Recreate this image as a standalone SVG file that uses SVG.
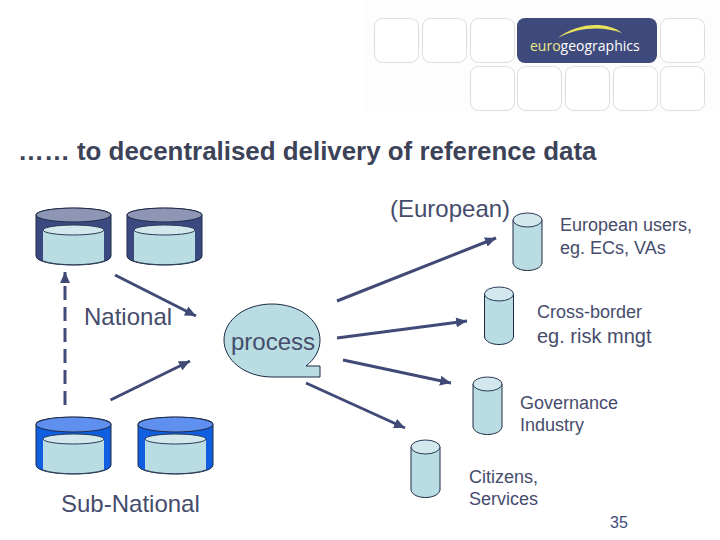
<svg xmlns="http://www.w3.org/2000/svg" width="720" height="540" viewBox="0 0 720 540">
<style>
text{font-family:"Liberation Sans",Arial,sans-serif;fill:#454c6c}
.big{font-size:24px}
.mid{font-size:20px}
.sm{font-size:18px}
.tile{fill:#fff;stroke:#dcdde0;stroke-width:1}
.cyl{fill:#b9dde2;stroke:#1c2a44;stroke-width:1}
.top{fill:#d3e8ec;stroke:#2a3a58;stroke-width:1}
.arrow{fill:none;stroke:#414a76;stroke-width:3;marker-end:url(#ah)}
</style>
<defs>
<marker id="ah" markerUnits="userSpaceOnUse" markerWidth="12" markerHeight="10" refX="11" refY="5" orient="auto"><path d="M0 0L11 5L0 10Z" fill="#414a76"/></marker>
<path id="bigc" d="M0 7C0 -2 75 -2 75 7V48C75 60 0 60 0 48Z"/>
<g id="inner">
<path d="M7 22V53C20 58 55 58 68 53V22Z" fill="#b9dde2"/>
<path d="M7 53C20 58 55 58 68 53" fill="none" stroke="#2a3a58"/>
<ellipse class="top" cx="37.500" cy="22" rx="30.500" ry="5"/>
</g>
<g id="small">
<path class="cyl" d="M0 7V50C2 60 27 60 29 50V7Z"/>
<ellipse class="top" cx="14.500" cy="7" rx="14.500" ry="7"/>
</g>
</defs>
<rect x="366" y="0" width="354" height="113" fill="#fdfdfd"/>
<g id="logo">
<rect class="tile" x="374.500" y="18.500" width="44" height="44" rx="8"/>
<rect class="tile" x="422.500" y="18.500" width="44" height="44" rx="8"/>
<rect class="tile" x="470.500" y="18.500" width="44" height="44" rx="8"/>
<rect x="517" y="18" width="140" height="45" rx="8" fill="#3f4a7c"/>
<path d="M558 38C575 24 605 20 622 33C603 26 578 27 558 38Z" fill="#e9e25c"/>
<text x="530" y="51" style="font-family:'Open Sans','Noto Sans',sans-serif;font-size:14px;fill:#e9e98a">euro<tspan style="fill:#fff">geographics</tspan></text>
<rect class="tile" x="660.500" y="18.500" width="44" height="44" rx="8"/>
<rect class="tile" x="470.500" y="66.500" width="44" height="44" rx="8"/>
<rect class="tile" x="517.500" y="66.500" width="44" height="44" rx="8"/>
<rect class="tile" x="565.500" y="66.500" width="44" height="44" rx="8"/>
<rect class="tile" x="613.500" y="66.500" width="44" height="44" rx="8"/>
<rect class="tile" x="660.500" y="66.500" width="44" height="44" rx="8"/>
</g>
<text x="18" y="160" style="font-size:25.900px;font-weight:bold;fill:#3c4358">…… to decentralised delivery of reference data</text>
<g id="connectors">
<path class="arrow" d="M65 405V272" stroke-dasharray="14 7"/>
<path class="arrow" d="M115 275L196 316"/>
<path class="arrow" d="M110.500 400L190 361"/>
<path class="arrow" d="M337 301L496 238"/>
<path class="arrow" d="M337 338L467 321"/>
<path class="arrow" d="M343 360L451 383"/>
<path class="arrow" d="M306 383L405 428"/>
</g>
<g id="national-1" transform="translate(36,208)">
<use href="#bigc" fill="#3a4a80" stroke="#1c2a44"/>
<ellipse cx="37.500" cy="7" rx="37.500" ry="7" fill="#8f95b5" stroke="#1c2a44"/>
<use href="#inner"/>
</g>
<g id="national-2" transform="translate(127,208)">
<use href="#bigc" fill="#3a4a80" stroke="#1c2a44"/>
<ellipse cx="37.500" cy="7" rx="37.500" ry="7" fill="#8f95b5" stroke="#1c2a44"/>
<use href="#inner"/>
</g>
<g id="sub-national-1" transform="translate(36,417)">
<use href="#bigc" fill="#0f5fe0" stroke="#1c2a44"/>
<ellipse cx="37.500" cy="7.500" rx="37.500" ry="7.500" fill="#5f90f0" stroke="#1c2a44"/>
<use href="#inner"/>
</g>
<g id="sub-national-2" transform="translate(138,417)">
<use href="#bigc" fill="#0f5fe0" stroke="#1c2a44"/>
<ellipse cx="37.500" cy="7.500" rx="37.500" ry="7.500" fill="#5f90f0" stroke="#1c2a44"/>
<use href="#inner"/>
</g>
<g id="process">
<path d="M320 377H272C245 377 224 360 224 340C224 320 245 304 272 304C299 304 320 320 320 340C320 350 315 359 306 366H320Z" fill="#b9dde2" stroke="#1c2a44"/>
<text x="231" y="350" class="big">process</text>
</g>
<g id="db-european"><use href="#small" x="513" y="213"/></g>
<g id="db-cross"><use href="#small" x="484.500" y="287"/></g>
<g id="db-gov"><use href="#small" x="473" y="377"/></g>
<g id="db-citizens"><use href="#small" x="411" y="440"/></g>
<text x="84" y="325" class="big">National</text>
<text x="61" y="512" class="big">Sub-National</text>
<text x="390" y="217" class="big">(European)</text>
<text x="560" y="231" class="sm">European users,</text>
<text x="560" y="254" class="sm">eg. ECs, VAs</text>
<text x="537" y="318" class="sm">Cross-border</text>
<text x="537" y="343" class="mid">eg. risk mngt</text>
<text x="520" y="409" class="sm">Governance</text>
<text x="520" y="431" class="sm">Industry</text>
<text x="469" y="483" class="sm">Citizens,</text>
<text x="469" y="505" class="sm">Services</text>
<text x="610" y="528" style="font-size:16px;fill:#3f4a7c">35</text>
</svg>
